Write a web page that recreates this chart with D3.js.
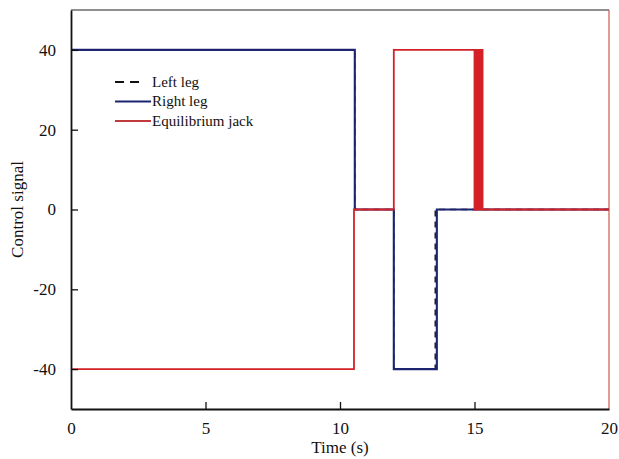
<!DOCTYPE html>
<html><head><meta charset="utf-8">
<script src="https://cdn.jsdelivr.net/npm/d3@7"></script>
<style>body{margin:0;background:#fff}svg{display:block}</style>
</head><body>
<svg id="c" width="619" height="459"></svg>
<script>
// Data (time in s, control signal)
const xTicks = [0, 5, 10, 15, 20];
const yTicks = [-40, -20, 0, 20, 40];
const leftLegT = [0, 10.55, 10.55, 12.0, 12.0, 13.54, 13.54, 20];
const leftLegV = [40, 40, 0, 0, -40, -40, 0, 0];
const rightLegT = [0, 10.55, 10.55, 12.0, 12.0, 13.6, 13.6, 20];
const rightLegV = [40, 40, 0, 0, -40, -40, 0, 0];
const jackT = [0, 10.52, 10.52, 12.0, 12.0, 15.0, 15.0, 15.03, 15.03, 15.06, 15.06, 15.09, 15.09, 15.12, 15.12, 15.15, 15.15, 15.18, 15.18, 15.21, 15.21, 15.24, 15.24, 15.27, 15.27, 15.3, 15.3, 15.33, 15.33, 20];
const jackV = [-40, -40, 0, 0, 40, 40, 0, 0, 40, 40, 0, 0, 40, 40, 0, 0, 40, 40, 0, 0, 40, 40, 0, 0, 40, 40, 0, 0, 0, 0];
const seriesNames = ["Left leg", "Right leg", "Equilibrium jack"];

const svg = d3.select("#c");
const m = {l: 71, r: 609, t: 10, b: 409};
const x = d3.scaleLinear().domain([0, 20]).range([m.l, m.r]);
const y = d3.scaleLinear().domain([-50, 50]).range([m.b, m.t]);
const font = "'Liberation Serif','Times New Roman',serif";

const line = d3.line().x(d => x(d[0])).y(d => y(d[1]));
const zip = (t, v) => t.map((ti, i) => [ti, v[i]]);

const g = svg.append("g");
g.append("path").attr("d", line(zip(leftLegT, leftLegV)))
  .attr("fill", "none").attr("stroke", "#111").attr("stroke-width", 1.4).attr("stroke-dasharray", "6,5");
g.append("path").attr("d", line(zip(rightLegT, rightLegV)))
  .attr("fill", "none").attr("stroke", "#1c2470").attr("stroke-width", 2.1);
g.append("path").attr("d", line(zip(jackT, jackV)))
  .attr("fill", "none").attr("stroke", "#d42128").attr("stroke-width", 1.8);

// Frame
svg.append("line").attr("x1", m.l).attr("x2", m.r).attr("y1", m.t).attr("y2", m.t).attr("stroke", "#222").attr("stroke-width", 1.2);
svg.append("line").attr("x1", m.r).attr("x2", m.r).attr("y1", m.t).attr("y2", m.b).attr("stroke", "#c0392b").attr("stroke-width", 1);

// Axes with inward ticks
const fmt = d => String(d);
const xa = svg.append("g").attr("transform", `translate(0,${m.b})`)
  .call(d3.axisBottom(x).tickValues(xTicks).tickFormat(fmt).tickSize(-7).tickPadding(13).tickSizeOuter(0));
const ya = svg.append("g").attr("transform", `translate(${m.l},0)`)
  .call(d3.axisLeft(y).tickValues(yTicks).tickFormat(fmt).tickSize(-7).tickPadding(15).tickSizeOuter(0));
[xa, ya].forEach(a => {
  a.select(".domain").attr("stroke", "#111").attr("stroke-width", 1.8);
  a.selectAll(".tick line").attr("stroke", "#111").attr("stroke-width", 1.3);
  a.selectAll(".tick text").attr("font-family", font).attr("font-size", 17).attr("fill", "#111");
});
xa.selectAll(".tick").filter(d => d === 0 || d === 20).select("line").remove();

// Axis titles
svg.append("text").attr("x", x(10)).attr("y", 453).attr("text-anchor", "middle")
  .attr("font-family", font).attr("font-size", 17).attr("fill", "#111").text("Time (s)");
svg.append("text").attr("transform", `translate(23,${y(0)}) rotate(-90)`).attr("text-anchor", "middle")
  .attr("font-family", font).attr("font-size", 17).attr("fill", "#111").text("Control signal");

// Legend
const lg = svg.append("g");
const styles = [
  {c: "#111", d: "9,6", w: 1.8, x2: 139},
  {c: "#1c2470", d: null, w: 1.8, x2: 151},
  {c: "#c0393b", d: null, w: 1.8, x2: 151}
];
seriesNames.forEach((n, i) => {
  const yy = 82 + i * 19.5;
  lg.append("line").attr("x1", 115).attr("x2", styles[i].x2).attr("y1", yy).attr("y2", yy)
    .attr("stroke", styles[i].c).attr("stroke-width", styles[i].w).attr("stroke-dasharray", styles[i].d);
  lg.append("text").attr("x", 152).attr("y", yy).attr("dy", "0.32em")
    .attr("font-family", font).attr("font-size", 15).attr("fill", "#111").text(n);
});
</script>
</body></html>
